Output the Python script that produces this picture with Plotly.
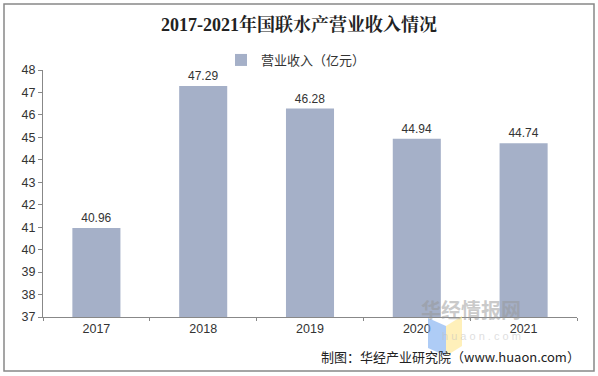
import plotly.graph_objects as go

years = ["2017", "2018", "2019", "2020", "2021"]
revenue = [40.96, 47.29, 46.28, 44.94, 44.74]
series_name = "营业收入（亿元）"
title_text = "2017-2021年国联水产营业收入情况"
source_text = "制图：华经产业研究院（www.huaon.com）"

W, H = 598, 376
L, R, T, B = 43, 21, 70, 59
pw, ph = W - L - R, H - T - B

def px(x):
    return (x - L) / pw

def py(y):
    return 1 - (y - T) / ph

fig = go.Figure()
fig.add_trace(go.Bar(
    x=years, y=revenue, name=series_name,
    marker=dict(color="#A5B0C8", line=dict(width=0)),
    width=0.45,
    text=[f"{v:.2f}" for v in revenue], textposition="outside",
    textfont=dict(size=12, color="#333333", family="Liberation Sans, Arial"),
    cliponaxis=False,
))

fig.update_layout(
    width=W, height=H,
    margin=dict(l=L, r=R, t=T, b=B, autoexpand=False),
    paper_bgcolor="white", plot_bgcolor="white",
    font=dict(family="Liberation Sans, Noto Sans CJK SC", size=12, color="#333333"),
    title=dict(text="<b>" + title_text + "</b>", x=0.5, xanchor="center", y=1 - 25 / H, yanchor="middle",
               font=dict(family="Liberation Serif, Noto Serif CJK SC, Noto Sans CJK SC", size=18, color="#222222")),
    showlegend=True,
    legend=dict(orientation="h", x=px(296), xanchor="center", y=py(60), yanchor="middle",
                font=dict(size=13, color="#333333", family="Noto Sans CJK SC"),
                bgcolor="rgba(0,0,0,0)"),
)

fig.update_yaxes(range=[37, 48], dtick=1, showgrid=False, showline=True, linecolor="#888888", linewidth=1,
                 ticks="outside", ticklen=4, tickcolor="#888888", tickfont=dict(size=12.5, color="#333333"),
                 zeroline=False, automargin=False)
fig.update_xaxes(showgrid=False, showline=True, linecolor="#888888", linewidth=1,
                 ticks="outside", tickson="boundaries", ticklen=3, tickcolor="#888888",
                 tickfont=dict(size=12.5, color="#333333"), automargin=False)

# outer frame
fig.add_shape(type="rect", xref="paper", yref="paper",
              x0=px(4), x1=px(594), y0=py(371), y1=py(4),
              line=dict(color="#888888", width=1.5), fillcolor="rgba(0,0,0,0)", layer="below")

# watermark
fig.add_shape(type="path", xref="paper", yref="paper",
              path=f"M {px(428)} {py(318)} L {px(446)} {py(326)} L {px(446)} {py(356)} L {px(428)} {py(348)} Z",
              fillcolor="rgba(120,170,240,0.6)", line=dict(width=0), layer="above")
fig.add_shape(type="path", xref="paper", yref="paper",
              path=f"M {px(446)} {py(326)} L {px(462)} {py(316)} L {px(462)} {py(346)} L {px(446)} {py(356)} Z",
              fillcolor="rgba(255,230,140,0.6)", line=dict(width=0), layer="above")
fig.add_annotation(text="<b>华经情报网</b>", xref="paper", yref="paper", x=px(523), y=py(326),
                   showarrow=False, font=dict(size=20, color="rgba(150,150,150,0.5)", family="Noto Sans CJK SC"))
fig.add_annotation(text="h u a o n . c o m", xref="paper", yref="paper", x=px(523), y=py(344),
                   showarrow=False, font=dict(size=11, color="rgba(190,190,190,0.5)", family="Liberation Sans"))

fig.add_annotation(text=source_text, xref="paper", yref="paper", x=px(582), y=py(356), xanchor="right",
                   yanchor="middle", showarrow=False,
                   font=dict(size=13, color="#222222", family="Noto Sans CJK SC"))

fig.write_html("out.html", config={"displayModeBar": False},
               post_script="document.body.style.margin='0';document.body.style.overflow='hidden';")
